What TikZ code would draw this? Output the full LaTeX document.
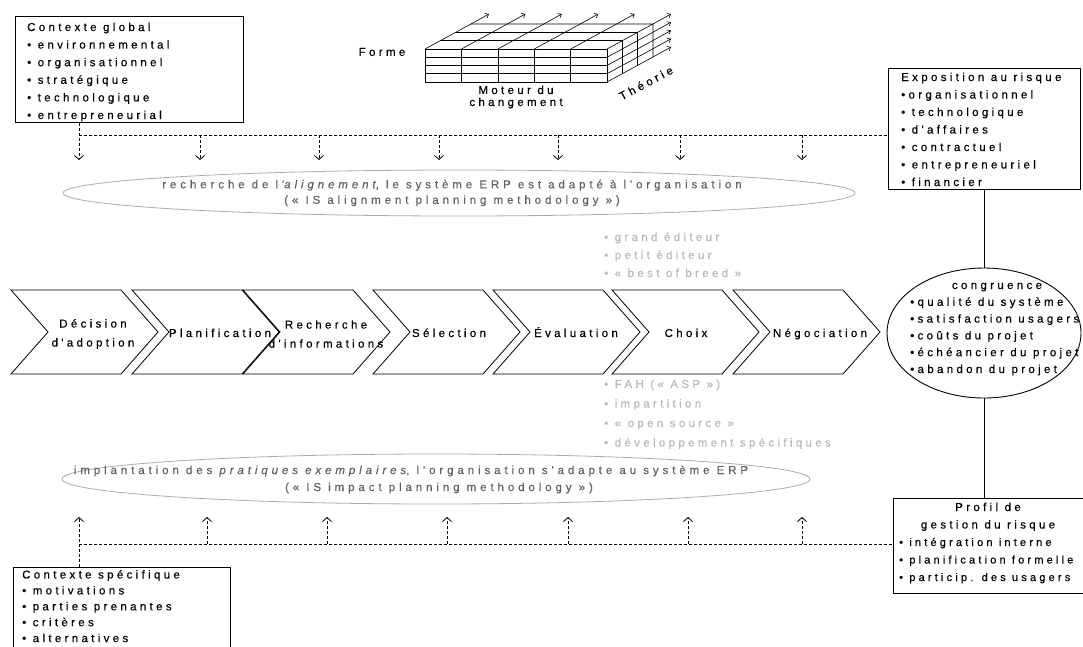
\documentclass[tikz,border=0pt]{standalone}
\usepackage{fontspec}
\newfontfamily\labfont[LetterSpace=29, FakeBold=0.35]{Liberation Sans}
\newfontfamily\ellfont[LetterSpace=34, FakeBold=0.35]{Liberation Sans}
\usetikzlibrary{arrows.meta,shapes.geometric}

\begin{document}
\begin{tikzpicture}[x=1pt,y=-1pt,
  txt/.style={font=\labfont\fontsize{11.5}{13}\selectfont, inner sep=0pt, text=black},
  smalltxt/.style={txt, font=\labfont\fontsize{11}{13}\selectfont},
  chevtxt/.style={font=\labfont\fontsize{11.5}{19}\selectfont, inner sep=0pt, align=center},
  elltxt/.style={font=\ellfont\fontsize{11.5}{15.5}\selectfont, inner sep=0pt, text=black!62, align=center},
  opt/.style={txt, anchor=base west, text=gray!55},
  box/.style={draw, line width=0.9pt, rectangle, inner sep=0pt, anchor=north west},
  oval/.style={ellipse, draw, inner sep=0pt},
  chev/.style={draw, line width=0.8pt, line join=miter},
  dsh/.style={dash pattern=on 3pt off 2pt, line width=0.7pt},
  tip/.style={-{Straight Barb[length=4pt,width=9pt,line width=0.8pt]}},
  cube/.style={line width=0.6pt},
  cubetip/.style={cube, -{Straight Barb[length=3pt,width=5pt,line width=0.6pt]}},
]
\useasboundingbox (0,0) rectangle (1083,646);
\clip (0,0) rectangle (1083,646);
\fill[white] (0,0) rectangle (1083,646);

% ---------- context and risk boxes ----------
\node[box, minimum width=228, minimum height=106] (ctxG) at (15,16) {};
\foreach \t [count=\i from 0] in {Contexte global, • environnemental, • organisationnel, • stratégique, • technologique, • entrepreneurial}
  \node[txt, anchor=base west] (ctxG-\i) at (27, 31+17.6*\i) {\t};

\node[box, minimum width=192, minimum height=121] (expo) at (888,68) {};
\foreach \t [count=\i from 0] in {Exposition au risque, •organisationnel, • technologique, • d'affaires, • contractuel, • entrepreneuriel, • financier}
  \node[txt, anchor=base west] (expo-\i) at (901, 81+17.5*\i) {\t};

\node[box, minimum width=190, minimum height=95] (profil) at (893,498) {};
\node[txt, anchor=base] (profil-0) at (988,511) {Profil de};
\node[txt, anchor=base] (profil-1) at (988,528.5) {gestion du risque};
\foreach \t [count=\i from 2] in {• intégration interne, • planification formelle, • particip. des usagers}
  \node[smalltxt, anchor=base west] (profil-\i) at (899, 511+17.5*\i) {\t};

\node[box, minimum width=217, minimum height=100] (ctxS) at (13,567) {};
\foreach \t [count=\i from 0] in {Contexte spécifique, • motivations, • parties prenantes, • critères, • alternatives}
  \node[txt, anchor=base west] (ctxS-\i) at (22, 578.5+15.9*\i) {\t};

% ---------- congruence ----------
\node[oval, line width=0.9pt, minimum width=194, minimum height=130] (congr) at (984,333) {};
\node[txt, anchor=base] (congr-0) at (997,289) {congruence};
\foreach \t [count=\i from 1] in {•qualité du système, •satisfaction usagers, •coûts du projet, •échéancier du projet, •abandon du projet}
  \node[txt, anchor=base west] (congr-\i) at (910, 289+16.8*\i) {\t};

\draw[line width=0.9pt] (expo.south) -- (expo.south |- congr.north);
\draw[line width=0.9pt] (congr.south) -- (congr.south |- profil.north);

% ---------- cube of theories ----------
\draw[cube] (425,49) rectangle (607,82);
\foreach \k in {1,...,4} \draw[cube] (425+36.4*\k,49) -- (425+36.4*\k,82);
\foreach \j in {1,2,3} \draw[cube] (425,49+8.25*\j) -- (607,49+8.25*\j);
\draw[cube] (425,49) -- (471,24) -- (653,24) -- (607,49);
\foreach \k in {1,...,4} \draw[cube] (425+36.4*\k,49) -- ++(46,-25);
\foreach \t in {1,2} \draw[cube] (425+46*\t/3, 49-25*\t/3) -- ++(182,0);
\draw[cube] (653,24) -- (653,57) -- (607,82);
\foreach \t in {1,2} \draw[cube] (607+46*\t/3, 49-25*\t/3) -- ++(0,33);
\foreach \j in {1,2,3} \draw[cube] (607,49+8.25*\j) -- ++(46,-25);
\foreach \k in {0,...,5} \draw[cubetip] (471+36.4*\k,24) -- ++(18,-10);
\foreach \j in {1,...,4} \draw[cubetip] (653,24+8.25*\j) -- ++(18,-10);

\node[txt] (forme) at (382,52) {Forme};
\node[txt, align=center, font=\labfont\fontsize{11.5}{12}\selectfont] (moteur) at (516,97) {Moteur du\\changement};
\node[txt, rotate=28] (theorie) at (646,83) {Théorie};

% ---------- alignment and impact ovals ----------
\node[oval, draw=gray!65, line width=0.8pt, minimum width=792, minimum height=46] (alignE) at (459,193) {};
\node[elltxt] (alignT) at ([xshift=-7pt]alignE.center) {recherche de l'\textit{alignement}, le système ERP est adapté à l'organisation\\(« IS alignment planning methodology »)};

\node[oval, draw=gray!65, line width=0.8pt, minimum width=748, minimum height=50] (implE) at (436,479) {};
\node[elltxt, anchor=base] (implT1) at (411,474) {implantation des \textit{pratiques exemplaires}, l'organisation s'adapte au système ERP};
\node[elltxt, anchor=base] (implT2) at (439,491) {(« IS impact planning methodology »)};

% ---------- process chevrons ----------
\foreach \L in {11,132,243,373,493,612,733}
  \draw[chev] (\L,290) -- ++(110,0) -- ++(37,42) -- ++(-37,42) -- ++(-110,0) -- ++(37,-42) -- cycle;

\node[chevtxt] (p1) at (93,334) {Décision\\d'adoption};
\node[txt, anchor=base] (p2) at (220,337) {Planification};
\node[chevtxt] (p3) at (326,334) {Recherche\\d'informations};
\node[txt, anchor=base] (p4) at (449,337) {Sélection};
\node[txt, anchor=base] (p5) at (576,337) {Évaluation};
\node[txt, anchor=base] (p6) at (686,337) {Choix};
\node[txt, anchor=base] (p7) at (820,337) {Négociation};

% ---------- options ----------
\foreach \t [count=\i from 0] in {• grand éditeur, • petit éditeur, • « best of breed »}
  \node[opt] (optA-\i) at (604, 241+18*\i) {\t};
\foreach \t [count=\i from 0] in {• FAH (« ASP »), • impartition, • « open source », • développement spécifiques}
  \node[opt] (optB-\i) at (604, 388+19.5*\i) {\t};

% ---------- dashed influence lines ----------
\coordinate (busT) at (79,135);
\foreach \x [count=\i] in {79,200,319,439,558,680,802}
  \coordinate (ta\i) at (\x,160);
\draw[dsh] (busT) -- (busT -| expo.west);
\draw[dsh, tip] (ctxG.south -| ta1) -- (ta1);
\foreach \i in {2,...,7}
  \draw[dsh, tip] (ta\i |- busT) -- (ta\i);

\coordinate (busB) at (79,544);
\foreach \x [count=\i] in {79,207,327,447,568,688,802}
  \coordinate (ba\i) at (\x,517);
\draw[dsh] (busB) -- (busB -| profil.west);
\draw[dsh, tip] (ctxS.north -| ba1) -- (ba1);
\foreach \i in {2,...,7}
  \draw[dsh, tip] (ba\i |- busB) -- (ba\i);
\end{tikzpicture}
\end{document}
